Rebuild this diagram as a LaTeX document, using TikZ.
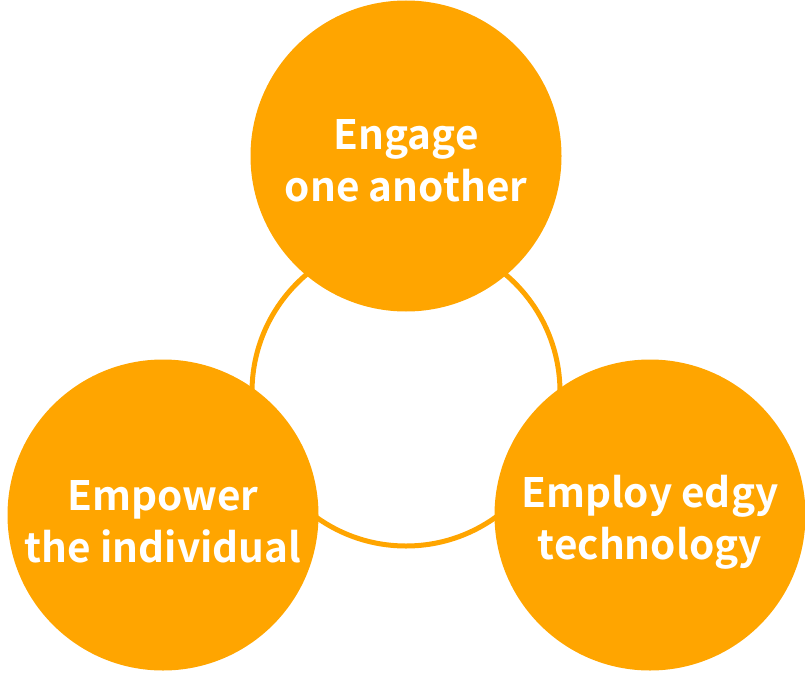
\documentclass[tikz,border=0pt]{standalone}
\usepackage{fontspec}
\newfontfamily\cjkfont{Noto Sans CJK JP}[BoldFont={* Bold}]
\definecolor{orng}{HTML}{FFA500}
\begin{document}
\begin{tikzpicture}[x=1pt,y=-1pt,
  bubble/.style={circle,fill=orng,minimum size=311pt,inner sep=0pt},
  label/.style={text=white,inner sep=0pt,
    font=\cjkfont\bfseries\fontsize{40.5}{52}\selectfont,align=center},
  ring/.style={draw=orng,line width=5pt}]
\useasboundingbox (0,0) rectangle (805,674);
\draw[ring] (406,392) circle[radius=154];
\node[bubble] (top) at (406,156) {};
\node[bubble] (left) at (163,515) {};
\node[bubble] (right) at (650,515) {};
\node[label] (ttop) at ([yshift=-5pt]top.center) {Engage\\one another};
\node[label] (tleft) at ([yshift=-7pt]left.center) {Empower\\the individual};
\node[label] (tright) at ([yshift=-7pt]right.center) {Employ edgy\\technology};
\end{tikzpicture}
\end{document}
